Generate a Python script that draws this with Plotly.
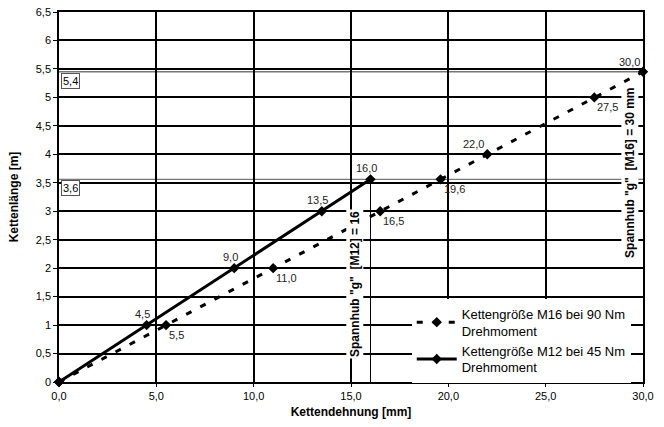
import plotly.graph_objs as go

# Kettengröße M16 bei 90 Nm
m16_x = [0.0, 5.5, 11.0, 16.5, 19.6, 22.0, 27.5, 30.0]
m16_y = [0.0, 1.0, 2.0, 3.0, 3.56, 4.0, 5.0, 5.45]
m16_labels = ['', '5,5', '11,0', '16,5', '19,6', '22,0', '27,5', '30,0']
m16_side = ['below', 'below', 'below', 'below', 'below', 'above', 'below', 'above']

# Kettengröße M12 bei 45 Nm
m12_x = [0.0, 4.5, 9.0, 13.5, 16.0]
m12_y = [0.0, 1.0, 2.0, 3.0, 3.56]
m12_labels = ['', '4,5', '9,0', '13,5', '16,0']

ref_labels = ['5,4', '3,6']
spannhub_m12 = 16
spannhub_m16 = 30

FONT = 'Liberation Sans, Arial, sans-serif'

data = []
data.append(go.Scatter(name='Kettengröße M16 bei 90 Nm<br>Drehmoment', x=m16_x, y=m16_y,
                       mode='lines+markers',
                       line=dict(color='black', width=3, dash='6px,10px'),
                       marker=dict(symbol='diamond', size=8, color='black'),
                       cliponaxis=False))
data.append(go.Scatter(name='Kettengröße M12 bei 45 Nm<br>Drehmoment', x=m12_x, y=m12_y,
                       mode='lines+markers',
                       line=dict(color='black', width=3),
                       marker=dict(symbol='diamond', size=8, color='black'),
                       cliponaxis=False))

layout = {
    "width": 664, "height": 427,
    "margin": dict(l=59, r=21, t=12, b=45, autoexpand=False),
    "paper_bgcolor": "white", "plot_bgcolor": "white",
    "font": dict(family=FONT, size=11, color='black'),
    "separators": ",.",
    "showlegend": True,
}

fig = go.Figure(data=data, layout=layout)
fig.update_xaxes(range=[0, 30], dtick=5, tickformat='.1f', showgrid=True, gridcolor='black', gridwidth=1.5,
                 showline=True, linecolor='black', linewidth=1.5, mirror=True, zeroline=False,
                 ticks='outside', ticklen=3, tickcolor='black', automargin=False,
                 title=dict(text='<b>Kettendehnung [mm]</b>', font=dict(size=12), standoff=7))
fig.update_yaxes(range=[0, 6.5], dtick=0.5, showgrid=True, gridcolor='black', gridwidth=1.5,
                 showline=True, linecolor='black', linewidth=1.5, mirror=True, zeroline=False,
                 ticks='outside', ticklen=4, tickcolor='black', automargin=False,
                 title=dict(text='<b>Kettenlänge [m]</b>', font=dict(size=12), standoff=15))

# Point labels
for x, y, lab in zip(m12_x, m12_y, m12_labels):
    if lab:
        fig.add_annotation(x=x, y=y, text=lab, showarrow=False, xanchor='center', yanchor='bottom',
                           xshift=-4, yshift=3, font=dict(size=11, color='#222'))
for x, y, lab, side in zip(m16_x, m16_y, m16_labels, m16_side):
    if not lab:
        continue
    if side == 'below':
        fig.add_annotation(x=x, y=y, text=lab, showarrow=False, xanchor='left', yanchor='top',
                           xshift=1, yshift=-2, font=dict(size=11, color='#222'))
    else:
        fig.add_annotation(x=x, y=y, text=lab, showarrow=False, xanchor='right', yanchor='bottom',
                           xshift=-1, yshift=2, font=dict(size=11, color='#222'))

# Reference lines for end values
for yv, lab in zip([m16_y[-1], m12_y[-1]], ref_labels):
    fig.add_shape(type='line', xref='x', yref='y', x0=0, x1=30, y0=yv, y1=yv,
                  line=dict(color='#777', width=1.3), layer='below')
    fig.add_annotation(x=0.12, y=yv - 0.02, xref='x', yref='y', text=lab, showarrow=False,
                       xanchor='left', yanchor='top', bgcolor='white', bordercolor='#555',
                       borderwidth=1, borderpad=1, font=dict(size=11))

# Spannhub line M12
fig.add_shape(type='line', xref='x', yref='y', x0=spannhub_m12, x1=spannhub_m12, y0=-0.08, y1=m12_y[-1],
              line=dict(color='black', width=1), layer='below')

fig.add_annotation(x=15.2, y=1.72, xref='x', yref='y', text='<b>Spannhub "g"  [M12] = 16</b>',
                   textangle=-90, showarrow=False, bgcolor='white', font=dict(size=12))
fig.add_annotation(x=29.3, y=3.68, xref='x', yref='y', text='<b>Spannhub "g"  [M16] = 30 mm</b>',
                   textangle=-90, showarrow=False, bgcolor='white', font=dict(size=12))

fig.update_layout(legend=dict(x=0.604, y=0.225, xanchor='left', yanchor='top', bgcolor='white',
                              font=dict(size=13), itemwidth=40, tracegroupgap=2))

# page body has an 8px default margin; drop it so the figure fills the window exactly
fig.write_html("out.html", config={'displayModeBar': False},
               post_script="document.body.style.margin='0';")
